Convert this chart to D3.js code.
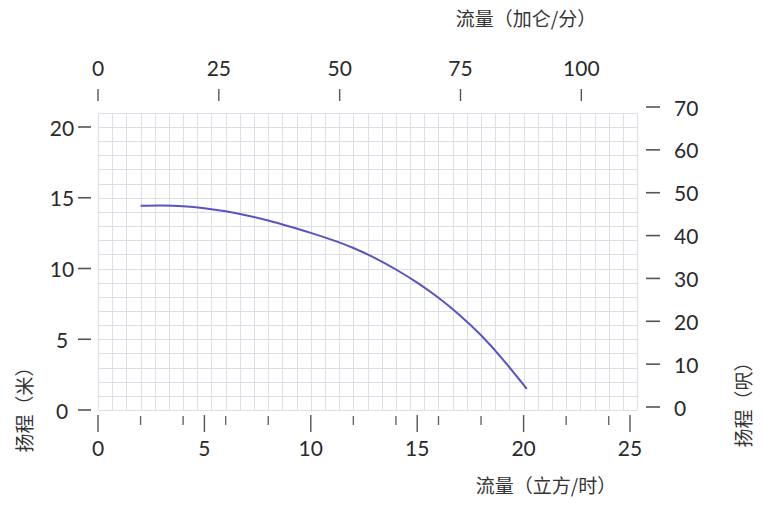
<!DOCTYPE html>
<html>
<head>
<meta charset="utf-8">
<script src="https://cdn.jsdelivr.net/npm/d3@7"></script>
<style>
  html, body { margin: 0; padding: 0; background: #fff; }
  svg { display: block; }
  .num { font-family: Lato, "Open Sans", sans-serif; font-size: 21px; fill: #2a2a2a; }
  .cjk { font-family: "Noto Sans CJK SC", sans-serif; font-size: 19px; fill: #333; }
</style>
</head>
<body>
<svg id="chart" width="764" height="505"></svg>
<script>
// ---- data ----
const flowM3h = [2, 3, 4, 5, 6, 7, 8, 9, 10, 11, 12, 13, 14, 15, 16, 17, 18, 19, 20.15];
const headM   = [14.43, 14.45, 14.40, 14.26, 14.04, 13.75, 13.39, 12.97, 12.52, 12.02, 11.45, 10.75, 9.93, 9.0, 7.93, 6.70, 5.28, 3.62, 1.5];

const bottomMajorTicks = [0, 5, 10, 15, 20, 25];
const bottomMinorTicks = [2, 4, 6, 8, 12, 14, 16, 18, 22, 24];
const leftTicks  = [0, 5, 10, 15, 20];
const rightTicks = [0, 10, 20, 30, 40, 50, 60, 70];
const topTicks   = [0, 25, 50, 75, 100];

const titleTop    = "流量（加仑/分）";
const titleBottom = "流量（立方/时）";
const titleLeft   = "扬程（米）";
const titleRight  = "扬程（呎）";

const GPM_PER_M3H = 4.4029;

// ---- layout ----
const svg = d3.select("#chart");
const x = d3.scaleLinear().domain([0, 25]).range([98, 630]);
const y = d3.scaleLinear().domain([0, 20]).range([410, 127]);
const xTop = d3.scaleLinear().domain([0, 25 * GPM_PER_M3H]).range([98, 630]);
const yFt = d3.scaleLinear().domain([0, 70]).range([407, 107]);

const gridXMax = 38 * 2 / 3;  // grid extends slightly beyond 25
const gridYMax = 21;

// grid
const grid = svg.append("g").attr("stroke", "#dedee6").attr("stroke-width", 1);
d3.range(0, 39).map(i => i * 2 / 3).forEach(v => {
  grid.append("line")
    .attr("x1", Math.round(x(v)) + 0.5).attr("x2", Math.round(x(v)) + 0.5)
    .attr("y1", y(gridYMax)).attr("y2", y(0));
});
d3.range(0, 22).forEach(v => {
  grid.append("line")
    .attr("x1", x(0)).attr("x2", x(gridXMax))
    .attr("y1", Math.round(y(v)) + 0.5).attr("y2", Math.round(y(v)) + 0.5);
});

// left axis (metres)
const gl = svg.append("g");
leftTicks.forEach(v => {
  gl.append("line").attr("x1", 78).attr("x2", 91).attr("y1", y(v)).attr("y2", y(v))
    .attr("stroke", "#555").attr("stroke-width", 1.6);
  gl.append("text").attr("class", "num").attr("x", 62).attr("y", y(v))
    .attr("text-anchor", "middle").attr("dominant-baseline", "central").text(v);
});

// right axis (feet)
const gr = svg.append("g");
rightTicks.forEach(v => {
  gr.append("line").attr("x1", 646).attr("x2", 660).attr("y1", yFt(v)).attr("y2", yFt(v))
    .attr("stroke", "#555").attr("stroke-width", 1.6);
  gr.append("text").attr("class", "num").attr("x", 674).attr("y", yFt(v))
    .attr("text-anchor", "start").attr("dominant-baseline", "central").text(v);
});

// bottom axis (m3/h)
const gb = svg.append("g");
bottomMajorTicks.forEach(v => {
  gb.append("line").attr("x1", x(v)).attr("x2", x(v)).attr("y1", 415).attr("y2", 432)
    .attr("stroke", "#555").attr("stroke-width", 1.4);
  gb.append("text").attr("class", "num").attr("x", x(v)).attr("y", 447)
    .attr("text-anchor", "middle").attr("dominant-baseline", "central").text(v);
});
bottomMinorTicks.forEach(v => {
  gb.append("line").attr("x1", x(v)).attr("x2", x(v)).attr("y1", 416).attr("y2", 425)
    .attr("stroke", "#666").attr("stroke-width", 1.4);
});

// top axis (gpm)
const gt = svg.append("g");
topTicks.forEach(v => {
  gt.append("line").attr("x1", xTop(v)).attr("x2", xTop(v)).attr("y1", 89).attr("y2", 101)
    .attr("stroke", "#555").attr("stroke-width", 1.4);
  gt.append("text").attr("class", "num").attr("x", xTop(v)).attr("y", 67)
    .attr("text-anchor", "middle").attr("dominant-baseline", "central").text(v);
});

// curve
const pts = flowM3h.map((f, i) => [f, headM[i]]);
svg.append("path")
  .datum(pts)
  .attr("fill", "none")
  .attr("stroke", "#5854c2")
  .attr("stroke-width", 2)
  .attr("d", d3.line().x(d => x(d[0])).y(d => y(d[1])).curve(d3.curveNatural));

// titles
svg.append("text").attr("class", "cjk").attr("x", 526).attr("y", 17)
  .attr("text-anchor", "middle").attr("dominant-baseline", "central").text(titleTop);
svg.append("text").attr("class", "cjk").attr("x", 546).attr("y", 484)
  .attr("text-anchor", "middle").attr("dominant-baseline", "central").text(titleBottom);
svg.append("text").attr("class", "cjk")
  .attr("transform", "translate(23,405) rotate(-90)")
  .attr("text-anchor", "middle").attr("dominant-baseline", "central").text(titleLeft);
svg.append("text").attr("class", "cjk")
  .attr("transform", "translate(742,400) rotate(-90)")
  .attr("text-anchor", "middle").attr("dominant-baseline", "central").text(titleRight);
</script>
</body>
</html>
